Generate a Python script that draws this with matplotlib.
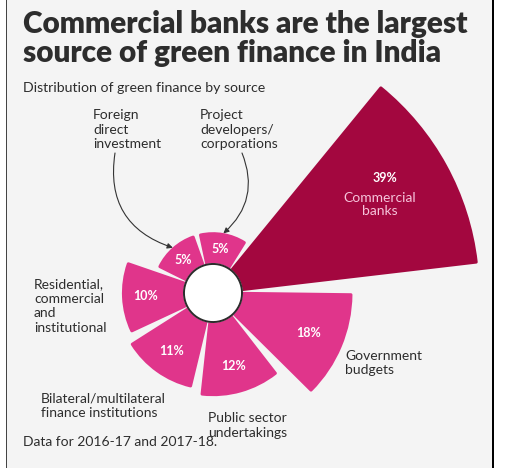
import numpy as np
import matplotlib
matplotlib.use("Agg")
import matplotlib.pyplot as plt
from matplotlib.patches import Rectangle

plt.rcParams['font.family'] = ['Lato', 'DejaVu Sans']

# green finance by source, in %
sources = ["Commercial banks", "Government budgets", "Public sector undertakings",
           "Bilateral/multilateral finance institutions",
           "Residential, commercial and institutional",
           "Foreign direct investment", "Project developers/corporations"]
shares = [39, 18, 12, 11, 10, 5, 5]
pct_labels = ["39%", "18%", "12%", "11%", "10%", "5%", "5%"]

W, H = 508, 468
dark_red = "#a3073f"
pink = "#e0358b"
txt = "#2d2d2d"

def fx(x):
    return x / W

def fy(y):
    return 1 - y / H

fig = plt.figure(figsize=(W / 100, H / 100), dpi=100, facecolor="white")
fig.patches.append(Rectangle((fx(6), 0), fx(493) - fx(6), 1, transform=fig.transFigure,
                             facecolor="#f4f4f4", edgecolor="none", zorder=-2))
fig.patches.append(Rectangle((fx(6), 0), fx(1.3), 1, transform=fig.transFigure,
                             facecolor="#444444", edgecolor="none", zorder=-1))
fig.patches.append(Rectangle((fx(492), 0), fx(2.2), 1, transform=fig.transFigure,
                             facecolor="black", edgecolor="none", zorder=-1))

# polar axes: 6.05 px per %, centre of the ring at (213, 293)
scale = 6.05
rmax = 45
hole = 4.8
cx, cy = 213, 293
R = rmax * scale
ax = fig.add_axes([fx(cx - R), fy(cy + R), 2 * R / W, 2 * R / H], projection="polar")
ax.set_ylim(0, rmax)
ax.set_axis_off()
ax.set_zorder(1)

n = len(shares)
step = 360 / n
theta = np.deg2rad(28.7 - step * np.arange(n))
width = np.deg2rad(44.0)
colors = [dark_red] + [pink] * (n - 1)
ax.bar(theta, shares, width=width, bottom=hole, color=colors, edgecolor=colors,
       linewidth=2.2, joinstyle="round", zorder=2)

# white hub in the middle
tt = np.linspace(0, 2 * np.pi, 200)
ax.fill(tt, np.full_like(tt, hole), color="white", zorder=3)
ax.plot(tt, np.full_like(tt, hole), color="#2b2b2b", lw=1.4, zorder=4)

outer = hole + np.array(shares)
for i in range(1, n):
    ax.text(theta[i], 0.75 * outer[i], pct_labels[i], ha="center", va="center",
            color="white", fontsize=9, fontweight="bold", zorder=5)

ax.annotate(pct_labels[0], xy=(theta[0], 0.75 * outer[0]), xytext=(-2.5, 20),
            textcoords="offset pixels", ha="center", va="center", color="white",
            fontsize=9, fontweight="bold", zorder=5)
ax.annotate("Commercial\nbanks", xy=(theta[0], 0.75 * outer[0]), xytext=(-7.5, -7),
            textcoords="offset pixels", ha="center", va="center", color="#f6c3da",
            fontsize=10, linespacing=1.15, zorder=5)

# arrows from the two labels above
arrow = dict(arrowstyle="-|>", color="#333333", lw=0.8, mutation_scale=8,
             shrinkA=0, shrinkB=0)
ax.annotate("", xy=(theta[5], outer[5] + 0.2), xytext=(fx(115), fy(153)),
            textcoords="figure fraction", annotation_clip=False,
            arrowprops=dict(arrow, connectionstyle="arc3,rad=0.42"))
ax.annotate("", xy=(theta[6], outer[6] + 0.2), xytext=(fx(242), fy(153)),
            textcoords="figure fraction", annotation_clip=False,
            arrowprops=dict(arrow, connectionstyle="arc3,rad=-0.35"))

# titles and labels
fig.text(fx(23), fy(33), "Commercial banks are the largest", fontsize=21.4,
         fontweight="heavy", color=txt, va="baseline")
fig.text(fx(23), fy(62), "source of green finance in India", fontsize=21.4,
         fontweight="heavy", color=txt, va="baseline")
fig.text(fx(23), fy(92.5), "Distribution of green finance by source", fontsize=10.2,
         color=txt, va="baseline")

def label(x, y0, lines, dy=14.7):
    for k, s in enumerate(lines):
        fig.text(fx(x), fy(y0 + k * dy), s, fontsize=10, color=txt, va="baseline")

label(93, 119, ["Foreign", "direct", "investment"])
label(200, 119, ["Project", "developers/", "corporations"])
label(34, 288, ["Residential,", "commercial", "and", "institutional"])
label(41, 402.5, ["Bilateral/multilateral", "finance institutions"])
label(208, 422.5, ["Public sector", "undertakings"])
label(345, 359.5, ["Government", "budgets"])
fig.text(fx(23), fy(446), "Data for 2016-17 and 2017-18.", fontsize=10,
         color=txt, va="baseline")

fig.savefig("out.png", dpi=100, facecolor=fig.get_facecolor())
